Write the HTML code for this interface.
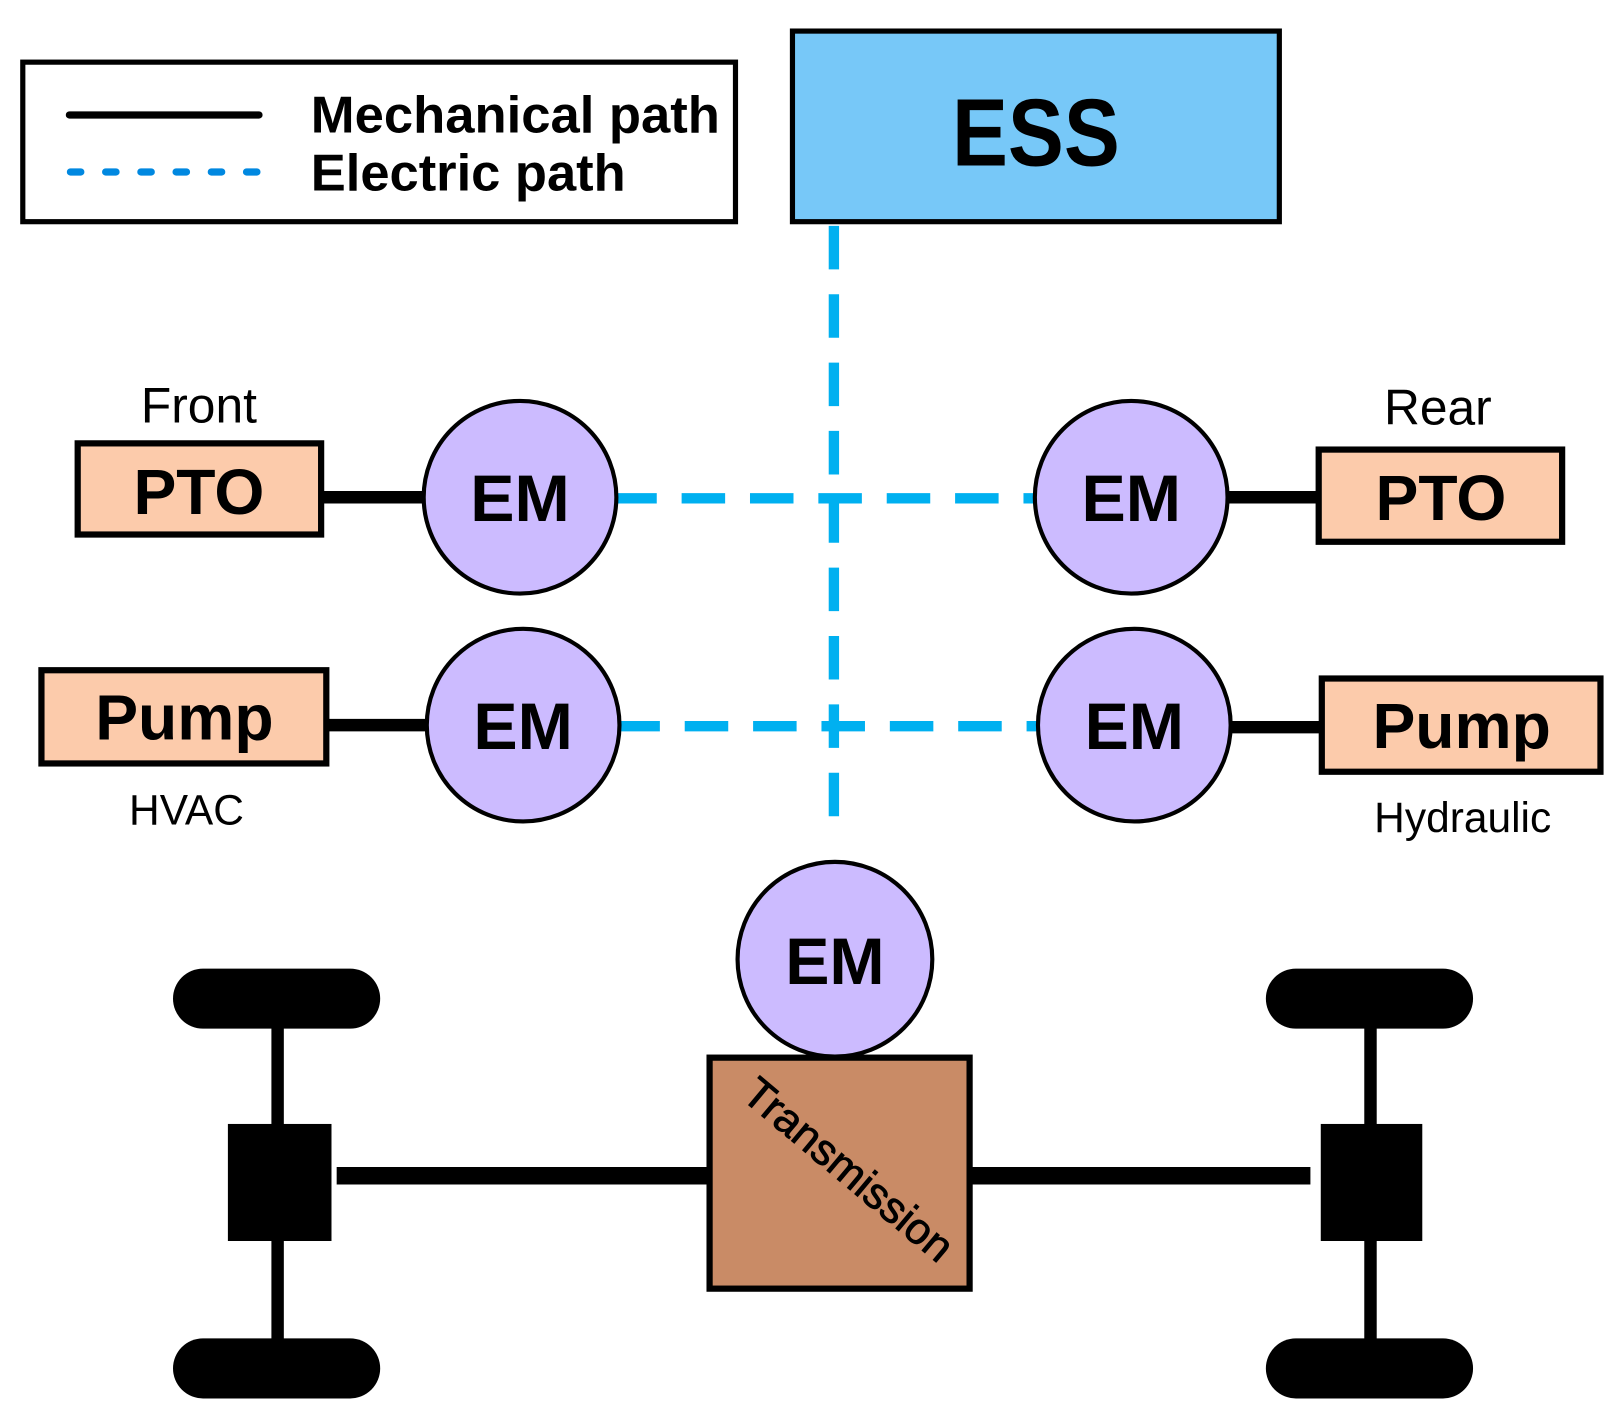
<!DOCTYPE html>
<html><head><meta charset="utf-8"><style>html,body{margin:0;padding:0;background:#fff}svg{display:block}</style></head>
<body>
<svg width="1616" height="1414" viewBox="0 0 1560 1365" preserveAspectRatio="none" xmlns="http://www.w3.org/2000/svg" font-family="Liberation Sans, sans-serif">
<rect x="22" y="60" width="688" height="154" fill="#fff" stroke="#000" stroke-width="5"/>
<line x1="67" y1="111" x2="250" y2="111" stroke="#000" stroke-width="7" stroke-linecap="round"/>
<line x1="68" y1="166" x2="250" y2="166" stroke="#0088e0" stroke-width="7" stroke-linecap="round" stroke-dasharray="10,24"/>
<text x="300" y="128" font-size="50" font-weight="bold" textLength="395" lengthAdjust="spacingAndGlyphs">Mechanical path</text>
<text x="300" y="184" font-size="50" font-weight="bold" textLength="304" lengthAdjust="spacingAndGlyphs">Electric path</text>
<rect x="765" y="30" width="470" height="184" fill="#77c8f8" stroke="#000" stroke-width="5"/>
<text x="1000" y="160" font-size="92" font-weight="bold" text-anchor="middle" textLength="162" lengthAdjust="spacingAndGlyphs">ESS</text>
<g stroke="#00b0f0" stroke-width="10" fill="none" stroke-dasharray="42,24">
<line x1="805" y1="218" x2="805" y2="810"/>
<line x1="592" y1="481" x2="1000" y2="481"/>
<line x1="595" y1="701" x2="1005" y2="701"/>
</g>
<g stroke="#000" stroke-width="12">
<line x1="310" y1="480" x2="410" y2="480"/>
<line x1="1180" y1="480" x2="1275" y2="480"/>
<line x1="315" y1="700" x2="413" y2="700"/>
<line x1="1183" y1="702" x2="1278" y2="702"/>
<line x1="325" y1="1135" x2="685" y2="1135" stroke-width="17"/>
<line x1="936" y1="1135" x2="1265" y2="1135" stroke-width="17"/>
<line x1="268" y1="965" x2="268" y2="1320"/>
<line x1="1323" y1="965" x2="1323" y2="1320"/>
</g>
<g stroke="#000" stroke-width="6" fill="#fccbab">
<rect x="75" y="428" width="235" height="88"/>
<rect x="1273" y="434" width="235" height="89"/>
<rect x="40" y="647" width="275" height="90"/>
<rect x="1276" y="655" width="269" height="90"/>
</g>
<g font-weight="bold" font-size="62" text-anchor="middle">
<text x="192" y="496">PTO</text>
<text x="1391" y="502">PTO</text>
<text x="178" y="714">Pump</text>
<text x="1411" y="722">Pump</text>
</g>
<g font-size="48" text-anchor="middle">
<text x="192" y="408">Front</text>
<text x="1388" y="410">Rear</text>
<text x="180" y="796" font-size="41">HVAC</text>
<text x="1412" y="803" font-size="41">Hydraulic</text>
</g>
<g fill="#ccbbff" stroke="#000" stroke-width="4">
<circle cx="502" cy="480" r="93"/>
<circle cx="1092" cy="480" r="93"/>
<circle cx="505" cy="700" r="93"/>
<circle cx="1095" cy="700" r="93"/>
<circle cx="806" cy="926" r="94"/>
</g>
<g font-weight="bold" font-size="64" text-anchor="middle">
<text x="502" y="503">EM</text>
<text x="1092" y="503">EM</text>
<text x="505" y="723">EM</text>
<text x="1095" y="723">EM</text>
<text x="806" y="950">EM</text>
</g>
<rect x="685" y="1021" width="251" height="223" fill="#c98b66" stroke="#000" stroke-width="6"/>
<text x="0" y="0" font-size="42" text-anchor="middle" stroke="#000" stroke-width="0.8" transform="translate(810,1140) rotate(40)" textLength="250" lengthAdjust="spacingAndGlyphs">Transmission</text>
<g fill="#000">
<rect x="220" y="1085" width="100" height="113"/>
<rect x="1275" y="1085" width="98" height="113"/>
<rect x="167" y="935" width="200" height="58" rx="29"/>
<rect x="167" y="1292" width="200" height="58" rx="29"/>
<rect x="1222" y="935" width="200" height="58" rx="29"/>
<rect x="1222" y="1292" width="200" height="58" rx="29"/>
</g>
</svg>
</body></html>
